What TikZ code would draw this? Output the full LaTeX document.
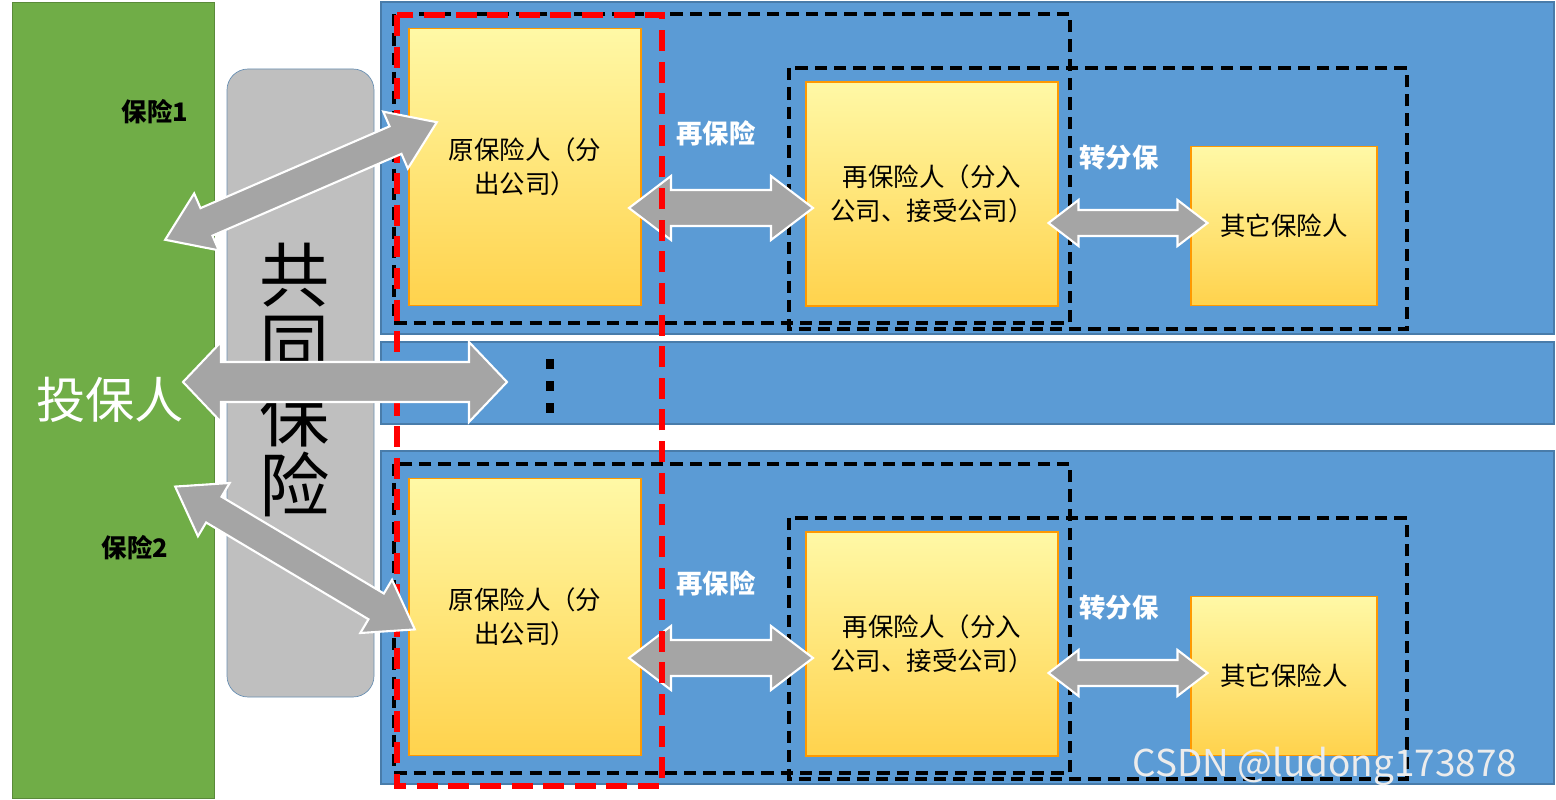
\documentclass[tikz,border=0pt]{standalone}
\usepackage{fontspec}
\setmainfont{Noto Sans CJK SC}
\definecolor{grn}{HTML}{70AD47}
\definecolor{blu}{HTML}{5B9BD5}
\definecolor{gry}{HTML}{BFBFBF}
\definecolor{arr}{HTML}{A5A5A5}
\tikzset{
  band/.style={fill=blu,draw=blu!80!black,line width=0.6pt},
  firm/.style={top color=orange!15!yellow!35,bottom color=orange!50!yellow!70,draw=orange!80!yellow,line width=0.6pt,
    inner sep=2pt,align=center,font=\fontsize{14.5}{19}\selectfont},
  frame/.style={draw=black,dashed,line width=2pt,dash pattern=on 7pt off 4pt},
  twoway/.style={fill=arr,draw=white,line width=1.2pt,line join=miter},
  lbl/.style={text=white,font=\bfseries\fontsize{15}{18}\selectfont}
}
% centre x, centre y, angle, length, half head, half shaft, head length
\newcommand\dblarrow[7]{%
  \begin{scope}[shift={(#1,#2)},rotate=#3]
    \draw[twoway] (-#4/2,0) -- (-#4/2+#7,#5) -- (-#4/2+#7,#6) -- (#4/2-#7,#6) -- (#4/2-#7,#5)
      -- (#4/2,0) -- (#4/2-#7,-#5) -- (#4/2-#7,-#6) -- (-#4/2+#7,-#6) -- (-#4/2+#7,-#5) -- cycle;
  \end{scope}}
\begin{document}
\begin{tikzpicture}[x=0.02cm,y=-0.02cm]
\useasboundingbox (0,0) rectangle (1556,800);
\fill[white] (0,0) rectangle (1556,800);
% left side
\draw[fill=grn,draw=grn!80!black] (12,2) rectangle (214,798);
\node[text=white,font=\fontsize{28}{30}\selectfont] (holder) at (110,400) {投保人};
\node[font=\bfseries\fontsize{14.5}{16}\selectfont] (ins1) at (155,112) {保险1};
\node[font=\bfseries\fontsize{14.5}{16}\selectfont] (ins2) at (135,548) {保险2};
\draw[fill=gry,draw=blu!60!gray,rounded corners=12pt] (227,69) rectangle (374,697);
\node[align=center,font=\fontsize{40}{40}\selectfont] (co) at (295,380) {共\\同\\保\\险};
% bands
\draw[band] (381,2) rectangle (1554,334);
\draw[band] (381,342) rectangle (1554,424);
\draw[band] (381,451) rectangle (1554,784);
\foreach \y in {364,386,408}
  \fill (546,\y-5) rectangle (554,\y+5);
% the two groups
\foreach \dy/\n in {0/a,450/b}{
  \node[firm,minimum width=232*0.02cm,minimum height=277*0.02cm] (orig\n) at (525,167+\dy) {原保险人（分\\出公司）};
  \node[firm,minimum width=252*0.02cm,minimum height=224*0.02cm] (re\n) at (932,194+\dy) {再保险人（分入\\公司、接受公司）};
  \node[firm,minimum width=186*0.02cm,minimum height=159*0.02cm] (oth\n) at (1284,226+\dy) {其它保险人};
  \draw[frame] (394,14+\dy) rectangle (1070,323+\dy);
  \draw[frame] (789,68+\dy) rectangle (1407,329+\dy);
  \dblarrow{721}{208+\dy}{0}{184}{32}{18}{42}
  \dblarrow{1128}{223+\dy}{0}{159}{23}{13}{30}
  \node[lbl] (rl\n) at (716,133+\dy) {再保险};
  \node[lbl] (tl\n) at (1119,158+\dy) {转分保};
}
\draw[draw=red,line width=3pt,dash pattern=on 12pt off 6pt] (397,15) rectangle (662,786);
% arrows from the policy holder
\dblarrow{301}{181}{23.4}{296}{31}{15}{45}
\dblarrow{345}{382}{0}{324}{40}{20}{38}
\dblarrow{295}{558}{-30.8}{279}{31}{15}{45}
\node[text=white!85!gray,font=\fontsize{21}{21}\selectfont] (mark) at (1325,766) {CSDN @ludong173878};
\end{tikzpicture}
\end{document}
